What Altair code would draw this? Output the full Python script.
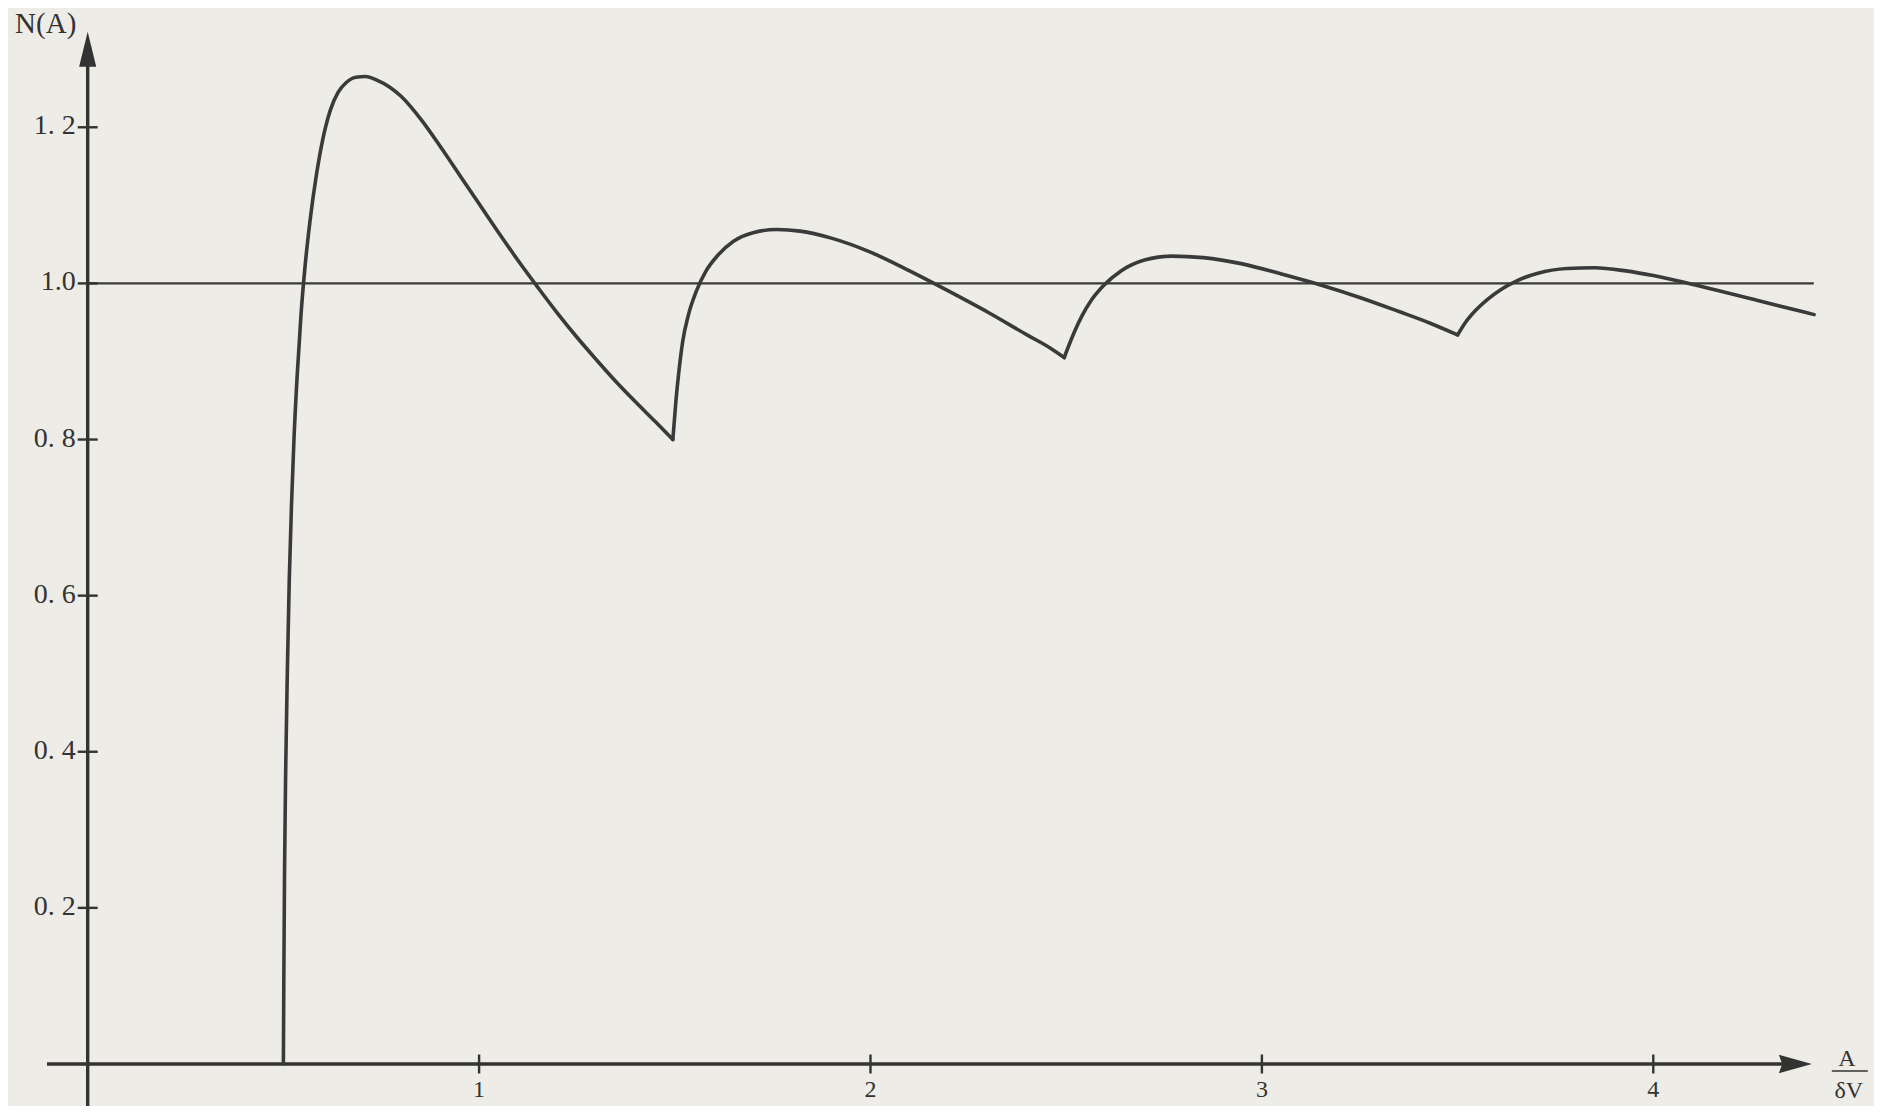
import altair as alt
import pandas as pd

# ---- curve N(A) versus A/δV (four branches) ----
seg1_x = [0.500, 0.501, 0.503, 0.506, 0.510, 0.515, 0.521, 0.527, 0.535, 0.545, 0.555,
          0.568, 0.585, 0.600, 0.620, 0.640, 0.660, 0.685, 0.710, 0.740, 0.770, 0.800,
          0.850, 0.900, 0.950, 1.000, 1.050, 1.100, 1.150, 1.200, 1.250, 1.300, 1.350,
          1.400, 1.450, 1.495]
seg1_y = [0.000, 0.100, 0.250, 0.380, 0.500, 0.620, 0.720, 0.800, 0.880, 0.960, 1.020,
          1.080, 1.141, 1.183, 1.222, 1.245, 1.257, 1.264, 1.265, 1.260, 1.252, 1.240,
          1.211, 1.176, 1.139, 1.102, 1.065, 1.029, 0.995, 0.962, 0.931, 0.902, 0.874,
          0.848, 0.823, 0.800]

seg2_x = [1.495, 1.503, 1.510, 1.520, 1.535, 1.555, 1.580, 1.610, 1.650, 1.700, 1.760,
          1.820, 1.900, 2.000, 2.100, 2.200, 2.300, 2.400, 2.460, 2.495]
seg2_y = [0.800, 0.850, 0.885, 0.925, 0.960, 0.990, 1.016, 1.036, 1.054, 1.065, 1.069,
          1.067, 1.058, 1.040, 1.016, 0.990, 0.963, 0.934, 0.917, 0.905]

seg3_x = [2.495, 2.508, 2.522, 2.540, 2.565, 2.595, 2.640, 2.700, 2.770, 2.850, 2.950,
          3.050, 3.150, 3.250, 3.350, 3.430, 3.500]
seg3_y = [0.905, 0.922, 0.939, 0.958, 0.979, 0.997, 1.016, 1.030, 1.035, 1.033, 1.025,
          1.012, 0.998, 0.982, 0.964, 0.949, 0.934]

seg4_x = [3.500, 3.520, 3.545, 3.575, 3.610, 3.650, 3.705, 3.780, 3.850, 3.930, 4.000,
          4.123, 4.267, 4.411]
seg4_y = [0.934, 0.950, 0.965, 0.979, 0.992, 1.003, 1.013, 1.019, 1.020, 1.016, 1.010,
          0.996, 0.978, 0.960]

# ---- axes / labels ----
ref_level = 1.0
ref_end = 4.41
ytick_values = [0.2, 0.4, 0.6, 0.8, 1.0, 1.2]
ytick_labels = ["0. 2", "0. 4", "0. 6", "0. 8", "1.0", "1. 2"]
xtick_values = [1, 2, 3, 4]
xtick_labels = ["1", "2", "3", "4"]
y_title = "N(A)"
x_title_num = "A"
x_title_den = "δV"

# ---- styling ----
BG = "#eeece6"
INK = "#333333"
CURVE = "#3a3a3a"
FONT = "Liberation Serif"

W, H = 1866, 1098
xs = alt.Scale(domain=[-0.2036, 4.5639], nice=False, zero=False)
ys = alt.Scale(domain=[-0.0538, 1.3528], nice=False, zero=False)

rows = []
for name, sx, sy in [("s1", seg1_x, seg1_y), ("s2", seg2_x, seg2_y),
                     ("s3", seg3_x, seg3_y), ("s4", seg4_x, seg4_y)]:
    for a, n in zip(sx, sy):
        rows.append({"a": a, "n": n, "seg": name})
curve_df = pd.DataFrame(rows)

X = lambda f: alt.X(f, type="quantitative", scale=xs, axis=None)
Y = lambda f: alt.Y(f, type="quantitative", scale=ys, axis=None)

curve = alt.Chart(curve_df).mark_line(
    interpolate="monotone", color=CURVE, strokeWidth=3.6,
    strokeCap="round", strokeJoin="round"
).encode(x=X("a"), y=Y("n"), detail="seg:N")

# axis lines
axes_df = pd.DataFrame({
    "x1": [0.0, -0.104], "x2": [0.0, 4.35],
    "y1": [-0.08, 0.0], "y2": [1.29, 0.0],
})
axes = alt.Chart(axes_df).mark_rule(color=INK, strokeWidth=3.4).encode(
    x=X("x1"), x2="x2", y=Y("y1"), y2="y2")

ref_df = pd.DataFrame({"x1": [0.0], "x2": [ref_end], "y": [ref_level]})
ref = alt.Chart(ref_df).mark_rule(color="#3a3a3a", strokeWidth=2.2).encode(
    x=X("x1"), x2="x2", y=Y("y"))

# arrowheads
up_df = pd.DataFrame({"x": [0.0], "y": [1.300]})
up_arrow = alt.Chart(up_df).mark_point(
    shape="M0,-1L0.49,1L-0.49,1Z", filled=True, size=1225, color=INK, opacity=1
).encode(x=X("x"), y=Y("y"))

right_df = pd.DataFrame({"x": [4.363], "y": [0.0]})
right_arrow = alt.Chart(right_df).mark_point(
    shape="M1,0L-1,-0.56L-0.8,0L-1,0.56Z", filled=True, size=1089, color=INK, opacity=1
).encode(x=X("x"), y=Y("y"))

# ticks
yt_df = pd.DataFrame({"v": ytick_values, "label": ytick_labels, "zero": 0.0})
xt_df = pd.DataFrame({"v": xtick_values, "label": xtick_labels, "zero": 0.0})

yticks = alt.Chart(yt_df).mark_tick(orient="horizontal", size=20, thickness=2.4,
                                    color=INK, opacity=1).encode(x=X("zero"), y=Y("v"))
xticks = alt.Chart(xt_df).mark_tick(orient="vertical", size=19, thickness=2.4,
                                    color=INK, opacity=1).encode(x=X("v"), y=Y("zero"))

ylabels = alt.Chart(yt_df).mark_text(
    align="right", baseline="middle", dx=-12, dy=-1, font=FONT, fontSize=28, color=INK
).encode(x=X("zero"), y=Y("v"), text="label:N")

xlabels = alt.Chart(xt_df).mark_text(
    align="center", baseline="middle", dy=26, font=FONT, fontSize=24, color=INK
).encode(x=X("v"), y=Y("zero"), text="label:N")

# titles
ytitle_df = pd.DataFrame({"x": [0.0], "y": [1.3225], "t": [y_title]})
ytitle = alt.Chart(ytitle_df).mark_text(
    align="center", baseline="middle", dx=-42, dy=-8, font=FONT, fontSize=29, color=INK
).encode(x=X("x"), y=Y("y"), text="t:N")

xt_num_df = pd.DataFrame({"x": [4.405], "y": [0.0], "t": [x_title_num]})
xt_den_df = pd.DataFrame({"x": [4.405], "y": [0.0], "t": [x_title_den]})
xnum = alt.Chart(xt_num_df).mark_text(
    align="center", baseline="middle", dx=35, dy=-5, font=FONT, fontSize=24, color=INK
).encode(x=X("x"), y=Y("y"), text="t:N")
xden = alt.Chart(xt_den_df).mark_text(
    align="center", baseline="middle", dx=37, dy=27, font=FONT, fontSize=24, color=INK
).encode(x=X("x"), y=Y("y"), text="t:N")
bar = alt.Chart(xt_num_df).mark_tick(
    orient="horizontal", size=36, thickness=1.6, color=INK, opacity=1,
    xOffset=38, yOffset=7
).encode(x=X("x"), y=Y("y"))

chart = alt.layer(
    ref, axes, yticks, xticks, curve, up_arrow, right_arrow,
    ylabels, xlabels, ytitle, xnum, xden, bar
).properties(
    width=W, height=H, padding=0, autosize="none", background=BG
).configure_view(stroke=None)

chart.save("out.html", embed_options={"renderer": "svg", "actions": False})
